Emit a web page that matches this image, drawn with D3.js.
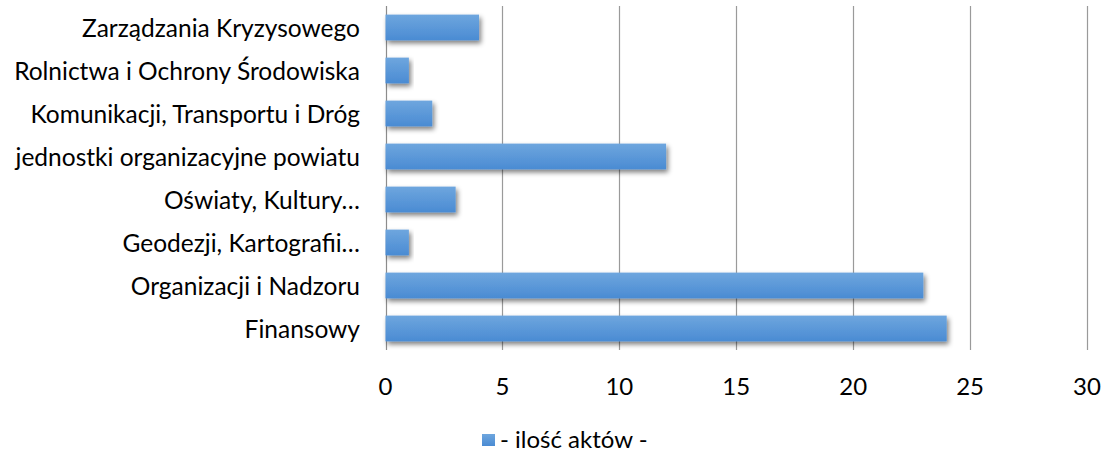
<!DOCTYPE html>
<html>
<head>
<meta charset="utf-8">
<script src="https://cdn.jsdelivr.net/npm/d3@7"></script>
<style>
  body { margin: 0; background: #fff; }
  text { font-family: Lato, "Open Sans", sans-serif; fill: #000; }
</style>
</head>
<body>
<svg id="chart" width="1102" height="451"></svg>
<script>
// categories, top to bottom
const categories = [
  'Zarządzania Kryzysowego',
  'Rolnictwa i Ochrony Środowiska',
  'Komunikacji, Transportu i Dróg',
  'jednostki organizacyjne powiatu',
  'Oświaty, Kultury…',
  'Geodezji, Kartografii…',
  'Organizacji i Nadzoru',
  'Finansowy'
];
const values = [4, 1, 2, 12, 3, 1, 23, 24];
const xTicks = [0, 5, 10, 15, 20, 25, 30];
const seriesName = '- ilość aktów -';

const svg = d3.select('#chart');
const x = d3.scaleLinear().domain([0, 30]).range([385.5, 1087]);
const y = d3.scaleBand().domain(categories).range([6, 350]).paddingInner(0.4).paddingOuter(0.2);

const defs = svg.append('defs');
const grad = defs.append('linearGradient')
  .attr('id', 'barGrad').attr('x1', 0).attr('y1', 0).attr('x2', 0).attr('y2', 1);
grad.append('stop').attr('offset', '0%').attr('stop-color', '#6ea6de');
grad.append('stop').attr('offset', '100%').attr('stop-color', '#4a8bd3');

const shadow = defs.append('filter').attr('id', 'shadow')
  .attr('x', '-10%').attr('y', '-30%').attr('width', '130%').attr('height', '180%');
shadow.append('feGaussianBlur').attr('in', 'SourceAlpha').attr('stdDeviation', 2.5);
shadow.append('feOffset').attr('dx', 2).attr('dy', 3).attr('result', 'blur');
shadow.append('feComponentTransfer').append('feFuncA').attr('type', 'linear').attr('slope', 0.5);
const merge = shadow.append('feMerge');
merge.append('feMergeNode');
merge.append('feMergeNode').attr('in', 'SourceGraphic');

// gridlines
svg.append('g')
  .selectAll('line')
  .data(xTicks)
  .join('line')
  .attr('x1', d => Math.round(x(d)) + 0.5)
  .attr('x2', d => Math.round(x(d)) + 0.5)
  .attr('y1', 6)
  .attr('y2', 350)
  .attr('stroke', d => d === 0 ? '#8c8c8c' : '#9a9a9a')
  .attr('stroke-width', 1.2);

// bars
svg.append('g')
  .selectAll('rect')
  .data(categories)
  .join('rect')
  .attr('x', x(0))
  .attr('y', d => y(d))
  .attr('width', (d, i) => x(values[i]) - x(0))
  .attr('height', y.bandwidth())
  .attr('fill', 'url(#barGrad)')
  .attr('filter', 'url(#shadow)');

// category labels
svg.append('g')
  .selectAll('text')
  .data(categories)
  .join('text')
  .attr('x', 360)
  .attr('y', d => y(d) + y.bandwidth() / 2)
  .attr('text-anchor', 'end')
  .attr('dominant-baseline', 'central')
  .style('font-size', '24.5px')
  .text(d => d);

// x tick labels
svg.append('g')
  .selectAll('text')
  .data(xTicks)
  .join('text')
  .attr('x', d => x(d))
  .attr('y', 385)
  .attr('text-anchor', 'middle')
  .attr('dominant-baseline', 'central')
  .style('font-size', '24px')
  .text(d => d);

// legend
const legend = svg.append('g');
legend.append('rect')
  .attr('x', 482).attr('y', 434).attr('width', 13).attr('height', 12)
  .attr('fill', 'url(#barGrad)');
legend.append('text')
  .attr('x', 500).attr('y', 438)
  .attr('dominant-baseline', 'central')
  .style('font-size', '24px')
  .text(seriesName);
</script>
</body>
</html>
